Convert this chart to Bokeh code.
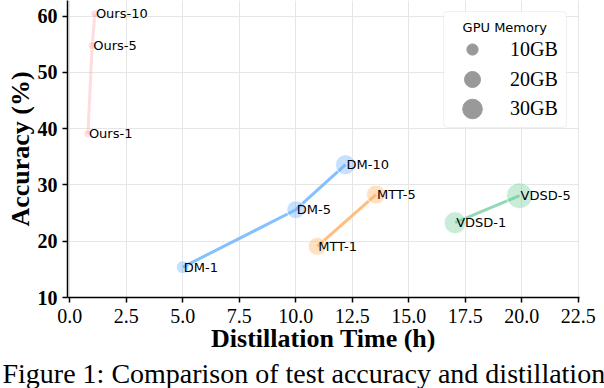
import numpy as np
from bokeh.plotting import figure
from bokeh.models import (ColumnDataSource, FixedTicker, Range1d, Label, BoxAnnotation,
                          Legend, LegendItem, NumeralTickFormatter, Title)
from bokeh.core.properties import value
from bokeh.embed import file_html
from bokeh.resources import INLINE

# ---- data ----
ours_time = [0.80, 0.99, 1.11]
ours_acc = [39.1, 54.8, 60.4]
ours_mem = [5, 5, 5]
ours_labels = ["Ours-1", "Ours-5", "Ours-10"]

dm_time = [5.0, 10.0, 12.2]
dm_acc = [15.4, 25.6, 33.6]
dm_mem = [13, 25, 31]
dm_labels = ["DM-1", "DM-5", "DM-10"]

mtt_time = [10.95, 13.55]
mtt_acc = [19.1, 28.3]
mtt_mem = [25, 28]
mtt_labels = ["MTT-1", "MTT-5"]

vdsd_time = [17.05, 19.9]
vdsd_acc = [23.3, 28.1]
vdsd_mem = [37, 52]
vdsd_labels = ["VDSD-1", "VDSD-5"]

legend_mem = [10, 20, 30]
legend_labels = ["10GB", "20GB", "30GB"]

x_ticks = [0.0, 2.5, 5.0, 7.5, 10.0, 12.5, 15.0, 17.5, 20.0, 22.5]
y_ticks = [10, 20, 30, 40, 50, 60]

caption = "Figure 1: Comparison of test accuracy and distillation"

# ---- styles ----
SIZE_K = 3.6
series = [
    (ours_time, ours_acc, ours_mem, ours_labels, "#FF9AA2", 0.35, 0.3),
    (dm_time, dm_acc, dm_mem, dm_labels, "#70B5FF", 0.85, 0.40),
    (mtt_time, mtt_acc, mtt_mem, mtt_labels, "#FFB366", 0.85, 0.40),
    (vdsd_time, vdsd_acc, vdsd_mem, vdsd_labels, "#70CC9C", 0.75, 0.38),
]

p = figure(width=604, height=388,
           x_range=Range1d(-0.102, 22.553), y_range=Range1d(10, 62.79),
           output_backend="svg", toolbar_location=None,
           min_border_left=67, min_border_right=25, min_border_top=0, min_border_bottom=91)
p.outline_line_color = None
p.background_fill_color = "white"
p.border_fill_color = "white"

for xs, ys, mem, labs, col, la, fa in series:
    src = ColumnDataSource(dict(x=xs, y=ys, size=list(SIZE_K * np.sqrt(mem)), label=labs))
    p.line("x", "y", source=src, line_color=col, line_width=3, line_alpha=la)
    p.scatter("x", "y", source=src, size="size", fill_color=col, fill_alpha=fa,
              line_color="white", line_alpha=0.8, line_width=1)
    p.text("x", "y", text="label", source=src, text_font=value("DejaVu Sans"),
           text_font_size="13px", text_baseline="alphabetic", text_align="left",
           x_offset=1, text_color="black")

# axes
p.xaxis.ticker = FixedTicker(ticks=x_ticks)
p.yaxis.ticker = FixedTicker(ticks=y_ticks)
p.xaxis.formatter = NumeralTickFormatter(format="0.0")
for ax in (p.xaxis, p.yaxis):
    ax.axis_line_color = "black"
    ax.axis_line_width = 1.5
    ax.major_tick_line_color = "black"
    ax.major_tick_line_width = 1.5
    ax.major_tick_out = 5
    ax.major_tick_in = 0
    ax.minor_tick_line_color = None
    ax.major_label_text_font = "Liberation Serif"
    ax.major_label_text_font_size = "20px"
    ax.major_label_text_color = "black"
    ax.axis_label_text_font = "Liberation Serif"
    ax.axis_label_text_font_size = "26px"
    ax.axis_label_text_font_style = "bold"
    ax.axis_label_text_color = "black"
p.yaxis.major_label_text_font_style = "bold"
p.xaxis.axis_label = "Distillation Time (h)"
p.yaxis.axis_label = "Accuracy (%)"
p.xaxis.major_label_standoff = 6
p.xaxis.axis_label_standoff = -2
p.yaxis.major_label_standoff = 5
p.yaxis.axis_label_standoff = 0

p.grid.grid_line_color = "#e6e6e6"
p.grid.grid_line_width = 1

# legend box
p.add_layout(BoxAnnotation(left=376, right=499, top=286, bottom=170,
                           left_units="screen", right_units="screen",
                           top_units="screen", bottom_units="screen",
                           fill_color="white", fill_alpha=0.9,
                           line_color="#cccccc", line_width=1, border_radius=4))
p.add_layout(Label(x=437.3, y=270, x_units="screen", y_units="screen", text="GPU Memory",
                   text_align="center", text_baseline="middle",
                   text_font="DejaVu Sans", text_font_size="13px", text_color="black"))

row_centers = [248, 218, 189]
for mem, lab, cy in zip(legend_mem, legend_labels, row_centers):
    gh = int(round(SIZE_K * np.sqrt(mem) / 0.4))
    r = p.scatter(x=np.array([np.nan]), y=np.array([np.nan]), size=gh * 0.4,
                  fill_color="#999999", line_color="#999999")
    leg = Legend(items=[LegendItem(label=lab, renderers=[r])],
                 location=(380, int(round(cy - gh / 2))), glyph_width=50, glyph_height=gh,
                 label_standoff=13, padding=0, margin=0, spacing=0,
                 border_line_color=None, background_fill_alpha=0,
                 label_text_font="Liberation Serif", label_text_font_size="20px",
                 label_text_color="black")
    p.add_layout(leg)

# caption below the chart
p.add_layout(Title(text=caption, align="left", offset=-65, standoff=0,
                   text_font="Liberation Serif", text_font_size="28px",
                   text_font_style="normal", text_color="black"), "below")

open("out.html", "w").write(file_html(p, INLINE))
